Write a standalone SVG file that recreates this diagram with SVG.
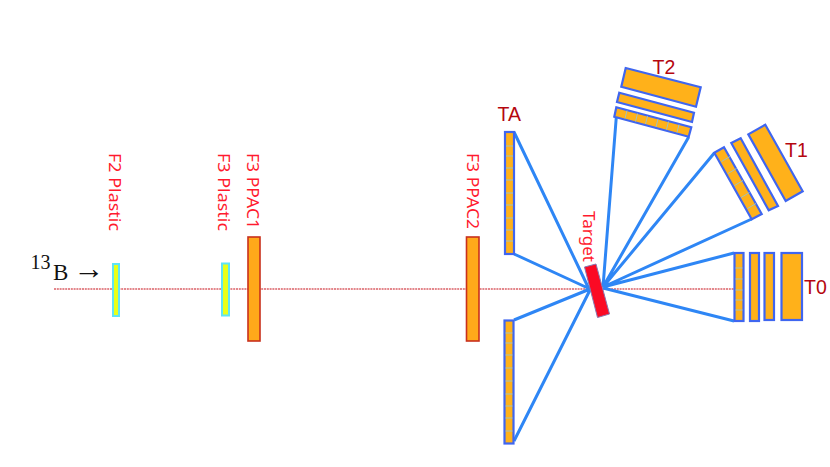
<svg xmlns="http://www.w3.org/2000/svg" width="830" height="467" viewBox="0 0 830 467">
<style>
text{font-family:"Noto Sans","Liberation Sans",sans-serif}
.lbl{fill:#ff1a2e;font-size:16px}
.big{font-size:17px}
.tl{fill:#b5070f;font-size:19.500px;font-family:"Liberation Sans",sans-serif}
.det{fill:#ffb11a;stroke:#3f66f0;stroke-width:2.200}
.ppac{fill:#ffa91a;stroke:#c9301c;stroke-width:1.600}
.pl{fill:#e8ff1a;stroke:#5fe4f5;stroke-width:2}
.ray{stroke:#2e86f5;stroke-width:3;fill:none}
.grid{stroke:#9fc0c0;stroke-width:1;fill:none}
.serif{font-family:"Liberation Serif",serif;fill:#111}
</style>
<rect width="830" height="467" fill="#fff"/>
<g id="beam"><line x1="54" y1="289" x2="735" y2="289" stroke="#c8101a" stroke-width="1.100" stroke-dasharray="2 0.800"/></g>
<g id="connectors">
<path class="ray" d="M514 132L589 289M514 254L590 289M514 320L590 289M514 441L590 290"/>
<path class="ray" d="M616.300 117L603 287M688.700 137L603 287M714.300 153L603 287M751.700 219L603 287M734 253L603 287M734 321L603 288"/>
</g>
<g id="F2-Plastic"><rect class="pl" x="113" y="264" width="6" height="52"/><text class="lbl" transform="translate(109 153) rotate(90)" textLength="78" lengthAdjust="spacingAndGlyphs">F2 Plastic</text></g>
<g id="F3-Plastic"><rect class="pl" x="222" y="263.500" width="7" height="52"/><text class="lbl" transform="translate(217.500 153) rotate(90)" textLength="78" lengthAdjust="spacingAndGlyphs">F3 Plastic</text></g>
<g id="F3-PPAC1"><rect class="ppac" x="248" y="237" width="12" height="104"/><text class="lbl big" transform="translate(247 153) rotate(90)" textLength="76" lengthAdjust="spacingAndGlyphs">F3 PPAC1</text></g>
<g id="F3-PPAC2"><rect class="ppac" x="466.500" y="237" width="12.500" height="104"/><text class="lbl big" transform="translate(466.500 153) rotate(90)" textLength="76" lengthAdjust="spacingAndGlyphs">F3 PPAC2</text></g>
<g id="beam-label"><text class="serif" x="30.500" y="268.500" font-size="20">13</text><text class="serif" x="53" y="280" font-size="23">B</text><text class="serif" x="73.500" y="278.500" font-size="31">→</text></g>
<g id="TA"><rect class="det" x="505" y="132" width="9" height="122"/><path class="grid" d="M506 146H513M506 156H513M506 168H513M506 180H513M506 193H513M506 205H513M506 218H513M506 230H513M506 241H513"/><rect class="det" x="504.500" y="320.500" width="9" height="123"/><path class="grid" d="M505.500 333H512.500M505.500 343H512.500M505.500 355H512.500M505.500 368H512.500M505.500 381H512.500M505.500 394H512.500M505.500 406H512.500M505.500 418H512.500M505.500 431H512.500"/><text class="tl" x="497.500" y="120.500">TA</text></g>
<g id="Target"><polygon points="584.500,267 596,264 609.500,314 597.500,317.500" fill="#fb0a24" stroke="#8878b0" stroke-width="1"/><text class="lbl" style="font-size:16.500px" transform="translate(583 211) rotate(90)" textLength="51" lengthAdjust="spacingAndGlyphs">Target</text></g>
<g id="T0"><rect class="det" x="734.500" y="253" width="9" height="68"/><path class="grid" d="M735.500 268H742.500M735.500 279H742.500M735.500 290H742.500M735.500 300H742.500M735.500 310H742.500"/><rect class="det" x="750" y="253" width="9" height="68"/><rect class="det" x="764.500" y="253" width="9.500" height="67"/><rect class="det" x="781.500" y="253" width="20.500" height="67"/><text class="tl" x="804" y="293.500">T0</text></g>
<g id="T1"><polygon class="det" points="765.300,124.700 802.700,191.300 785.700,201 748.300,134.300"/><polygon class="det" points="740.700,138.300 778,206 768.700,210.300 731.300,143"/><polygon class="det" points="724,147.300 761.700,214 751.700,219.300 714.300,152.700"/><path class="grid" d="M721.500 161.500L730 156.500M728 173.500L736.500 168.500M734.500 185.500L743 180.500M741 197.500L749.500 192.500M747.500 208.500L756 203.500"/><text class="tl" x="785" y="157">T1</text></g>
<g id="T2"><polygon class="det" points="625.700,68 700.700,87.300 696,106.700 621.300,86.700"/><polygon class="det" points="619.300,92.700 694,112.700 692,122 617,102"/><polygon class="det" points="616.300,107.300 691.300,127.300 688.700,136.700 614.300,116.700"/><path class="grid" d="M627 110.500L625 118.500M637.500 113.500L635.500 121.500M647.500 116L645.500 124M658 119L656 127M668.500 121.500L666.500 129.500M679 124.500L677 132.500"/><text class="tl" x="652.500" y="74">T2</text></g>
</svg>
